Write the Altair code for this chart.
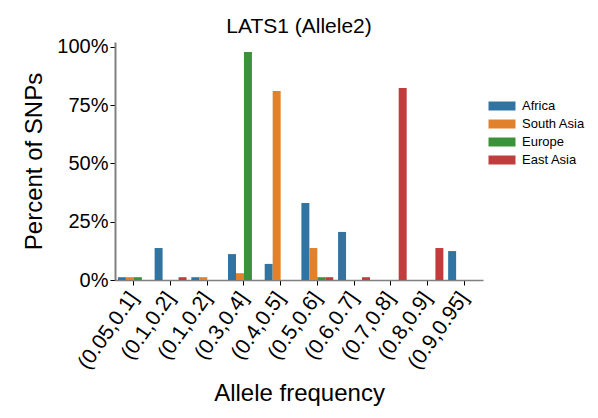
import json
import altair as alt
import pandas as pd

bins = ["(0.05,0.1]", "(0.1,0.2]", "(0.1,0.2]", "(0.3,0.4]", "(0.4,0.5]",
        "(0.5,0.6]", "(0.6,0.7]", "(0.7,0.8]", "(0.8,0.9]", "(0.9,0.95]"]
regions = ["Africa", "South Asia", "Europe", "East Asia"]
colors = ["#3274A1", "#E1812C", "#3A923A", "#C03D3E"]

africa = [1.2, 13.7, 1.2, 11.1, 6.9, 33.0, 20.6, 0.0, 0.0, 12.4]
south_asia = [1.2, 0.0, 1.2, 2.9, 81.0, 13.7, 0.0, 0.0, 0.0, 0.0]
europe = [1.2, 0.0, 0.0, 97.7, 0.0, 1.2, 0.0, 0.0, 0.0, 0.0]
east_asia = [0.0, 1.2, 0.0, 0.0, 0.0, 1.2, 1.2, 82.3, 13.7, 0.0]

series = [africa, south_asia, europe, east_asia]
rows = []
for r, vals in zip(regions, series):
    for i, v in enumerate(vals):
        rows.append({"bin": str(i), "region": r, "pct": v})
df = pd.DataFrame(rows)

font = "Liberation Sans"
label_expr = json.dumps(bins) + "[toNumber(datum.value)]"

chart = alt.Chart(df).mark_bar().encode(
    x=alt.X("bin:N", sort=[str(i) for i in range(10)],
            scale=alt.Scale(paddingInner=0.13, paddingOuter=0.08),
            axis=alt.Axis(title="Allele frequency", labelExpr=label_expr,
                          labelAngle=-55, labelFontSize=21, labelFont=font,
                          labelAlign="right", labelBaseline="middle",
                          titleFontSize=24, titleFont=font, titleFontWeight="normal",
                          titleColor="black", labelColor="black",
                          domainColor="#808080", domainWidth=1.5,
                          tickColor="black", tickSize=5, labelPadding=9,
                          titlePadding=9)),
    xOffset=alt.XOffset("region:N", sort=regions, scale=alt.Scale(paddingInner=0, paddingOuter=0)),
    y=alt.Y("pct:Q", scale=alt.Scale(domain=[0, 102], nice=False),
            axis=alt.Axis(title="Percent of SNPs", values=[0, 25, 50, 75, 100],
                          labelExpr="datum.value + '%'", labelFontSize=20,
                          labelFont=font, labelColor="black",
                          titleFontSize=24, titleFont=font, titleFontWeight="normal",
                          titleColor="black", grid=False,
                          domainColor="#808080", domainWidth=2,
                          tickColor="black", tickSize=5, titlePadding=10)),
    color=alt.Color("region:N", sort=regions,
                    scale=alt.Scale(domain=regions, range=colors),
                    legend=alt.Legend(title=None, orient="none", legendX=378, legendY=55,
                                      symbolType="M-1.5,-0.5L1.5,-0.5L1.5,0.5L-1.5,0.5Z",
                                      symbolSize=324, symbolStrokeWidth=0,
                                      labelFontSize=13, labelFont=font, labelOffset=11,
                                      labelColor="black", rowPadding=2)),
).properties(
    width=368, height=238,
    autosize=alt.AutoSizeParams(type="none"),
    title=alt.TitleParams("LATS1 (Allele2)", fontSize=21, font=font,
                          fontWeight="normal", color="black", offset=0),
).configure(
    padding={"left": 107, "top": 34, "right": 107, "bottom": 130}
).configure_view(stroke=None)

chart.save("out.html", embed_options={"renderer": "svg", "actions": False})
